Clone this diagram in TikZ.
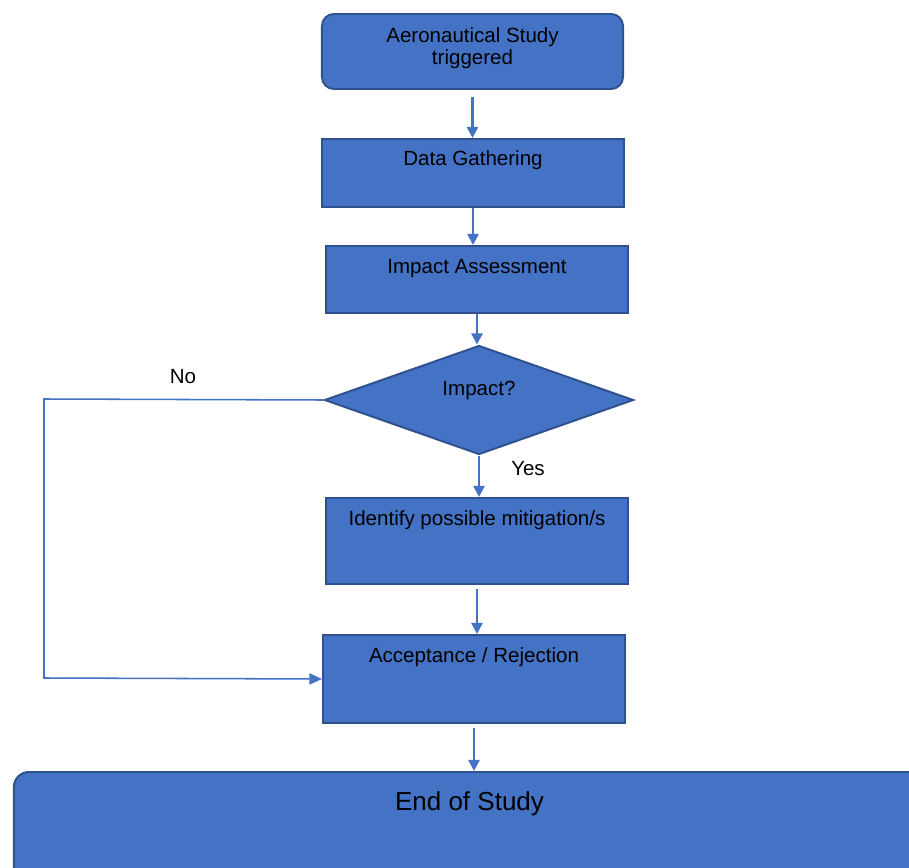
\documentclass[tikz,border=0pt]{standalone}
\usepackage{fontspec}
\setmainfont{Liberation Sans}
\usetikzlibrary{shapes.geometric,arrows.meta}
\definecolor{boxblue}{HTML}{4472C4}
\definecolor{bordblue}{HTML}{2F528F}
\begin{document}
\begin{tikzpicture}[x=0.025cm,y=-0.025cm,
    font=\fontsize{14.6}{15}\selectfont,
    proc/.style={draw=bordblue,fill=boxblue,line width=1.4pt,anchor=north,minimum width=7.55cm,inner sep=0pt,align=center},
    dec/.style={diamond,draw=bordblue,fill=boxblue,line width=1.4pt,minimum width=7.725cm,minimum height=2.725cm,aspect=2.83,inner sep=0pt,text height=0.35cm,text depth=0.6cm},
    arr/.style={draw=boxblue,line width=1.7pt,-{Triangle[length=8pt,width=8pt]}},
    noarr/.style={draw=boxblue,line width=1.1pt,-{Triangle[length=9pt,width=8pt]}}]
\useasboundingbox (0,0) rectangle (909,868);
\clip (0,0) rectangle (909,868);
\node[proc,rounded corners=0.3cm,minimum width=7.525cm,minimum height=1.875cm,text depth=0.27cm] (trig) at (472.5,13) {Aeronautical Study\\triggered};
\node[proc,text height=0.675cm,text depth=1.025cm] (data) at (473,138) {Data Gathering};
\node[proc,text height=0.7cm,text depth=0.975cm] (assess) at (477,245) {Impact Assessment};
\node[dec] (impact) at (479,400) {Impact?};
\node[proc,text height=0.7cm,text depth=1.45cm] (mitig) at (477,497) {Identify possible mitigation/s};
\node[proc,text height=0.7cm,text depth=1.5cm] (accept) at (474,634) {Acceptance / Rejection};
\node[proc,rounded corners=0.375cm,minimum width=22.775cm,text height=0.95cm,text depth=1.8cm,font=\fontsize{18.5}{20}\selectfont] (endst) at (469.5,771) {End of Study};
\node[anchor=base] (yes) at (528,475) {Yes};
\node[anchor=base] (no) at (183,383) {No};
\coordinate (nob) at (44,399);
\coordinate (noc) at (44,678);
\draw[arr,shorten <=5pt] (trig.south) -- (trig.south |- data.north);
\draw[arr] (data.south) -- (data.south |- assess.north);
\draw[arr] (assess.south) -- (assess.south |- impact.north);
\draw[arr] (impact.south) -- (impact.south |- mitig.north);
\draw[arr,shorten <=3pt] (mitig.south) -- (mitig.south |- accept.north);
\draw[arr,shorten <=3pt] (accept.south) -- (accept.south |- endst.north);
\draw[noarr] (impact.west) -- (nob) -- (noc) -- (accept.west);
\end{tikzpicture}
\end{document}
